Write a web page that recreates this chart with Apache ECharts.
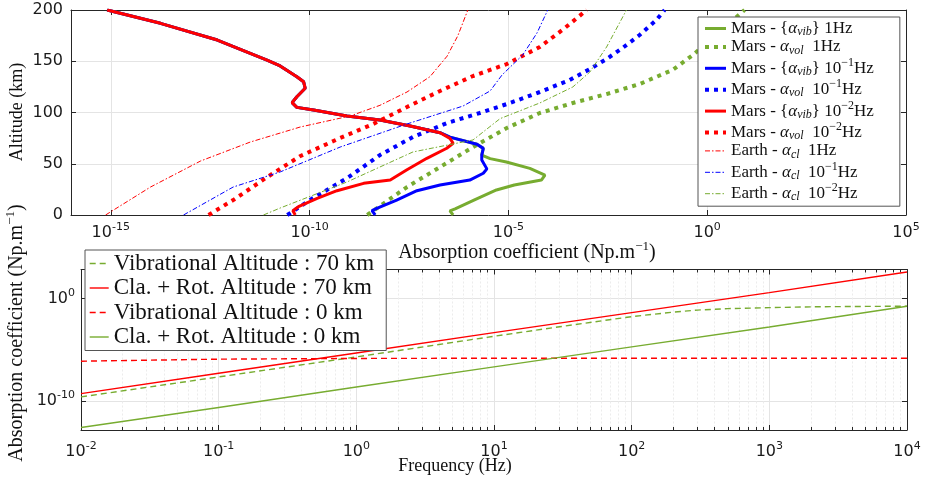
<!DOCTYPE html>
<html><head><meta charset="utf-8">
<script src="https://cdn.jsdelivr.net/npm/echarts@6/dist/echarts.min.js"></script>
<style>html,body{margin:0;padding:0;background:#fff}#c{width:929px;height:480px}</style>
</head><body><div id="c"></div>
<script>
// ---------------- TOP PANEL DATA (altitude km vs absorption coefficient Np/m) ----------------
const altMarsVib1 = [0, 4, 6, 15, 24.4, 29.3, 34.1, 39, 45.5, 51.7, 55, 58.5, 65, 69, 76, 80.3, 86.8, 92.7, 96.6, 102.4, 105, 109.6, 115.4, 123.6, 130, 134.9, 145.4, 151.2, 170.7, 187, 200];
const coefMarsVib1 = [4.07e-7, 3.39e-7, 4.57e-7, 1.45e-6, 5.01e-6, 1.41e-5, 6.76e-5, 8.32e-5, 3.47e-5, 8.91e-6, 3.47e-6, 2.14e-6, 2.34e-6, 1.62e-6, 3.39e-7, 1.91e-7, 3.39e-8, 5.89e-9, 8.71e-10, 1.26e-10, 4.79e-11, 3.63e-11, 4.79e-11, 7.76e-11, 7.08e-11, 4.79e-11, 1.82e-11, 8.51e-12, 4.79e-13, 1.78e-14, 8.13e-16];

const altMarsVol1 = [0, 27.3, 46.8, 66.3, 84.9, 99.5, 109.3, 118, 127.8, 141.5, 156.1, 178.5, 200];
const coefMarsVol1 = [2.82e-9, 2.82e-8, 1.91e-7, 1.29e-6, 9.12e-6, 6.17e-5, 4.17e-4, 2.95e-3, 2.00e-2, 1.35e-1, 4.37e-1, 2.04, 8.71];

const altMarsVib01 = [0, 4.2, 6.5, 14.6, 23.7, 29.3, 34.1, 40.7, 45, 53.7, 58.5, 65, 69, 76, 80.3, 86.8, 92.7, 96.6, 102.4, 105, 109.6, 115.4, 123.6, 130, 134.9, 145.4, 151.2, 170.7, 187, 200];
const coefMarsVib01 = [4.47e-9, 3.72e-9, 4.90e-9, 1.55e-8, 5.01e-8, 1.91e-7, 1.07e-6, 2.34e-6, 2.88e-6, 2.14e-6, 2.14e-6, 2.34e-6, 1.62e-6, 3.39e-7, 1.91e-7, 3.39e-8, 5.89e-9, 8.71e-10, 1.26e-10, 4.79e-11, 3.63e-11, 4.79e-11, 7.76e-11, 7.08e-11, 4.79e-11, 1.82e-11, 8.51e-12, 4.79e-13, 1.78e-14, 8.13e-16];

const altMarsVol01 = [0, 16.6, 36.1, 58.5, 76.1, 89.8, 99.5, 109.3, 120, 131.7, 142.4, 152.2, 162.9, 175.6, 190.2, 200];
const coefMarsVol01 = [2.75e-11, 1.23e-10, 8.91e-10, 5.89e-9, 3.98e-8, 2.88e-7, 1.91e-6, 1.10e-5, 6.17e-5, 3.47e-4, 1.12e-3, 2.95e-3, 7.41e-3, 2.00e-2, 5.25e-2, 8.51e-2];

const altMarsVib001 = [0, 4.2, 8.1, 16.3, 23.7, 30.9, 34.1, 43.9, 55.3, 65.1, 70, 74.8, 80.3, 86.8, 92.7, 96.6, 102.4, 105, 109.6, 115.4, 123.6, 130, 134.9, 145.4, 151.2, 170.7, 187, 200];
const coefMarsVib001 = [4.37e-11, 3.80e-11, 5.25e-11, 1.55e-10, 4.90e-10, 2.29e-9, 1.07e-8, 2.75e-8, 8.91e-8, 2.82e-7, 4.07e-7, 3.39e-7, 1.91e-7, 3.39e-8, 5.89e-9, 8.71e-10, 1.26e-10, 4.79e-11, 3.63e-11, 4.79e-11, 7.76e-11, 7.08e-11, 4.79e-11, 1.82e-11, 8.51e-12, 4.79e-13, 1.78e-14, 8.13e-16];

const altMarsVol001 = [0, 14.6, 37.1, 57.6, 75.1, 88.8, 105.4, 121, 135.6, 147.3, 163.9, 182.4, 200];
const coefMarsVol001 = [2.88e-13, 1.20e-12, 8.71e-12, 5.89e-11, 5.89e-10, 3.98e-9, 2.82e-8, 1.91e-7, 1.29e-6, 9.12e-6, 6.17e-5, 2.63e-4, 9.33e-4];

const altEarth1 = [0, 27.3, 52.7, 71.2, 85.9, 96.6, 107, 120, 135, 155, 175, 200];
const coefEarth1 = [7.41e-16, 1.00e-14, 1.82e-13, 3.24e-12, 5.89e-11, 1.05e-9, 5.89e-9, 2.82e-8, 1.07e-7, 2.88e-7, 5.37e-7, 9.55e-7];

const altEarth01 = [0, 27.3, 42, 66.3, 88.8, 106.3, 121, 136.6, 156.1, 177.6, 200];
const coefEarth01 = [6.76e-14, 1.20e-12, 1.82e-11, 5.89e-10, 2.82e-8, 7.24e-7, 3.47e-6, 6.92e-6, 2.29e-5, 5.25e-5, 9.77e-5];

const altEarth001 = [0, 6.8, 32.2, 61.5, 73.2, 94, 109.3, 124.9, 139.5, 163.9, 200];
const coefEarth001 = [6.92e-12, 1.82e-11, 8.71e-10, 3.98e-8, 1.29e-6, 6.17e-6, 6.17e-5, 4.17e-4, 1.12e-3, 2.95e-3, 9.33e-3];

const topXTicks = [1e-15, 1e-10, 1e-5, 1e0, 1e5];
const topYTicks = [0, 50, 100, 150, 200];

// ---------------- BOTTOM PANEL DATA (frequency Hz vs absorption coefficient) ----------------
const freqLine = [0.01, 0.1, 1, 10, 100, 1000, 10000];
const claRot70 = [5.13e-10, 5.01e-8, 4.79e-6, 4.79e-4, 4.27e-2, 3.89, 407];
const claRot0 = [2.45e-13, 2.24e-11, 2.24e-9, 2.09e-7, 1.91e-5, 1.70e-3, 1.82e-1];
const vib0 = [7.59e-7, 1.20e-6, 1.41e-6, 1.48e-6, 1.48e-6, 1.48e-6, 1.48e-6];
const freqVib70 = [0.01, 0.1, 1, 10, 30, 100, 200, 300, 500, 1000, 2000, 5000, 10000];
const vib70 = [2.45e-10, 2.19e-8, 2.00e-6, 2.09e-4, 1.78e-3, 1.74e-2, 4.79e-2, 7.59e-2, 1.05e-1, 1.32e-1, 1.58e-1, 1.74e-1, 1.82e-1];

const botXTicks = [1e-2, 1e-1, 1e0, 1e1, 1e2, 1e3, 1e4];
const botYTicks = [1e-10, 1e0];

// ---------------- STYLE ----------------
const SANS = 'DejaVu Sans';
const SERIF = 'Liberation Serif';
const AX = '#262626';
const GRID = '#e4e4e4';
const GREEN = '#77AC30', BLUE = '#0000FF', RED = '#FF0000';
const L10 = Math.log10;

const tickRich = {
  b: {fontFamily: SANS, fontSize: 16, color: '#1a1a1a', lineHeight: 20},
  s: {fontFamily: SANS, fontSize: 11, color: '#1a1a1a', lineHeight: 20, padding: [0, 0, 11, 0]}
};
const expFmt = v => '{b|10}{s|' + String(Math.round(v)) + '}';

const topPts = (alt, coef) => alt.map((a, i) => [L10(coef[i]), a]);
const botPts = (f, v) => f.map((x, i) => [L10(x), L10(v[i])]);

const minorVals = [];
for (let k = -2; k < 4; k++) for (let m = 2; m <= 9; m++) minorVals.push(k + L10(m));

function ax(o) {
  return Object.assign({
    type: 'value',
    axisLine: {show: true, onZero: false, lineStyle: {color: AX, width: 1}},
    axisTick: {show: true, inside: true, length: 5, lineStyle: {color: AX, width: 1}},
    axisLabel: {show: false},
    splitLine: {show: false}
  }, o);
}
const NOLINE = {show: false, onZero: false};

const topMajX = topXTicks.map(L10);
const botMajY = botYTicks.map(L10);

const legRich = (fs) => ({
  a: {fontStyle: 'italic', fontFamily: SERIF, fontSize: fs},
  t: {fontFamily: SERIF, fontSize: fs},
  sub: {fontStyle: 'italic', fontFamily: SERIF, fontSize: Math.round(fs * 0.68), padding: [7, 0, 0, 0]},
  sup: {fontFamily: SERIF, fontSize: Math.round(fs * 0.68), padding: [0, 0, 11, 0]}
});

const topNames = ['Mars vib 1', 'Mars vol 1', 'Mars vib 0.1', 'Mars vol 0.1', 'Mars vib 0.01', 'Mars vol 0.01', 'Earth 1', 'Earth 0.1', 'Earth 0.01'];
const topLabels = {
  'Mars vib 1': '{t|Mars - \u007B}{a|α}{sub|vib}\u007D{t| 1Hz}',
  'Mars vol 1': '{t|Mars - }{a|α}{sub|vol}{t|  1Hz}',
  'Mars vib 0.1': '{t|Mars - \u007B}{a|α}{sub|vib}\u007D{t| 10}{sup|−1}{t|Hz}',
  'Mars vol 0.1': '{t|Mars - }{a|α}{sub|vol}{t|  10}{sup|−1}{t|Hz}',
  'Mars vib 0.01': '{t|Mars - \u007B}{a|α}{sub|vib}\u007D{t| 10}{sup|−2}{t|Hz}',
  'Mars vol 0.01': '{t|Mars - }{a|α}{sub|vol}{t|  10}{sup|−2}{t|Hz}',
  'Earth 1': '{t|Earth - }{a|α}{sub|cl}{t|  1Hz}',
  'Earth 0.1': '{t|Earth - }{a|α}{sub|cl}{t|  10}{sup|−1}{t|Hz}',
  'Earth 0.01': '{t|Earth - }{a|α}{sub|cl}{t|  10}{sup|−2}{t|Hz}'
};
const botNames = ['Vibrational Altitude : 70 km', 'Cla. + Rot. Altitude : 70 km', 'Vibrational Altitude : 0 km', 'Cla. + Rot. Altitude : 0 km'];

const DOT = [4, 5];
const DASHDOT = [5, 2, 1.5, 2];
const DASH = [6, 4];

function topLine(name, alt, coef, color, width, type) {
  return {name, type: 'line', xAxisIndex: 0, yAxisIndex: 0, data: topPts(alt, coef), symbol: 'none',
    lineStyle: {color, width, type, cap: 'butt'}, itemStyle: {color}, clip: true};
}
function botLine(name, f, v, color, type) {
  return {name, type: 'line', xAxisIndex: 2, yAxisIndex: 2, data: botPts(f, v), symbol: 'none',
    lineStyle: {color, width: 1.4, type}, itemStyle: {color}, clip: true};
}

function gtext(text, x, y, rot, fs) {
  return {type: 'text', x, y, rotation: rot || 0,
    style: {text, fontFamily: SERIF, fontSize: fs, fill: '#111', align: 'center', verticalAlign: 'middle',
      textAlign: 'center', textVerticalAlign: 'middle', lineHeight: 22,
      rich: {sup: {fontFamily: SERIF, fontSize: Math.round(fs * 0.65), lineHeight: 22, padding: [0, 0, 12, 0]}}}};
}

const option = {
  animation: false,
  backgroundColor: '#fff',
  textStyle: {fontFamily: SANS},
  grid: [
    {left: 71, top: 10, width: 835, height: 205},
    {left: 81, top: 269.5, width: 826, height: 160.5}
  ],
  xAxis: [
    ax({gridIndex: 0, position: 'bottom', min: -16, max: 5,
      axisTick: {show: true, inside: true, length: 5, customValues: topMajX, lineStyle: {color: AX}},
      axisLabel: {show: true, customValues: topMajX, formatter: expFmt, rich: tickRich, margin: 8},
      splitLine: {show: true, lineStyle: {color: GRID, width: 1}}}),
    ax({gridIndex: 0, position: 'top', min: -16, max: 5,
      axisTick: {show: true, inside: true, length: 5, customValues: topMajX, lineStyle: {color: AX}}}),
    ax({gridIndex: 1, position: 'bottom', min: -2, max: 4, interval: 1,
      axisLabel: {show: true, formatter: expFmt, rich: tickRich, margin: 12},
      splitLine: {show: true, lineStyle: {color: GRID, width: 1}}}),
    ax({gridIndex: 1, position: 'bottom', min: -2, max: 4, axisLine: NOLINE,
      axisTick: {show: true, inside: true, length: 3, customValues: minorVals, lineStyle: {color: AX}},
      splitLine: {show: true, lineStyle: {color: '#ececec', width: 1, type: [2, 2]}}}),
    ax({gridIndex: 1, position: 'top', min: -2, max: 4, interval: 1}),
    ax({gridIndex: 1, position: 'top', min: -2, max: 4, axisLine: NOLINE,
      axisTick: {show: true, inside: true, length: 3, customValues: minorVals, lineStyle: {color: AX}}})
  ],
  yAxis: [
    ax({gridIndex: 0, position: 'left', min: 0, max: 200, interval: 50,
      axisLabel: {show: true, color: '#1a1a1a', fontFamily: SANS, fontSize: 16, margin: 8},
      splitLine: {show: true, lineStyle: {color: GRID, width: 1}}}),
    ax({gridIndex: 0, position: 'right', min: 0, max: 200, interval: 50}),
    ax({gridIndex: 1, position: 'left', min: -12.85, max: 2.85,
      axisTick: {show: true, inside: true, length: 5, customValues: botMajY, lineStyle: {color: AX}},
      axisLabel: {show: true, customValues: botMajY, formatter: expFmt, rich: tickRich, margin: 6},
      splitLine: {show: true, lineStyle: {color: GRID, width: 1}}}),
    ax({gridIndex: 1, position: 'right', min: -12.85, max: 2.85,
      axisTick: {show: true, inside: true, length: 5, customValues: botMajY, lineStyle: {color: AX}}})
  ],
  legend: [
    {data: topNames, orient: 'vertical', left: 698, top: 17, itemWidth: 21, itemHeight: 12, itemGap: 0.4,
      padding: [3, 26, 3, 5], backgroundColor: '#fff', borderColor: '#555', borderWidth: 1, borderRadius: 0,
      selectedMode: false, formatter: n => topLabels[n],
      itemStyle: {opacity: 0}, lineStyle: {width: 'inherit'},
      textStyle: {fontFamily: SERIF, fontSize: 17, color: '#111', rich: legRich(17)}},
    {data: botNames, orient: 'vertical', left: 85, top: 250, itemWidth: 19, itemHeight: 12, itemGap: 1.5,
      padding: [2, 12, 2, 4], backgroundColor: '#fff', borderColor: '#555', borderWidth: 1, borderRadius: 0,
      selectedMode: false, itemStyle: {opacity: 0}, lineStyle: {width: 'inherit'},
      textStyle: {fontFamily: SERIF, fontSize: 23, color: '#111'}}
  ],
  graphic: [
    gtext('Altitude (km)', 17, 112, Math.PI / 2, 18),
    gtext('Absorption coefficient (Np.m{sup|−1})', 527, 253, 0, 20),
    gtext('Absorption coefficient (Np.m{sup|−1})', 17, 333, Math.PI / 2, 20),
    gtext('Frequency (Hz)', 455, 466, 0, 18)
  ],
  series: [
    topLine('Mars vib 1', altMarsVib1, coefMarsVib1, GREEN, 3, 'solid'),
    topLine('Mars vol 1', altMarsVol1, coefMarsVol1, GREEN, 4, DOT),
    topLine('Mars vib 0.1', altMarsVib01, coefMarsVib01, BLUE, 3, 'solid'),
    topLine('Mars vol 0.1', altMarsVol01, coefMarsVol01, BLUE, 4, DOT),
    topLine('Mars vib 0.01', altMarsVib001, coefMarsVib001, RED, 3, 'solid'),
    topLine('Mars vol 0.01', altMarsVol001, coefMarsVol001, RED, 4, DOT),
    topLine('Earth 1', altEarth1, coefEarth1, RED, 1, DASHDOT),
    topLine('Earth 0.1', altEarth01, coefEarth01, BLUE, 1, DASHDOT),
    topLine('Earth 0.01', altEarth001, coefEarth001, GREEN, 1, DASHDOT),
    botLine(botNames[0], freqVib70, vib70, GREEN, DASH),
    botLine(botNames[1], freqLine, claRot70, RED, 'solid'),
    botLine(botNames[2], freqLine, vib0, RED, DASH),
    botLine(botNames[3], freqLine, claRot0, GREEN, 'solid')
  ]
};
const chart = echarts.init(document.getElementById('c'), null, {renderer: 'canvas'});
chart.setOption(option);
</script></body></html>
